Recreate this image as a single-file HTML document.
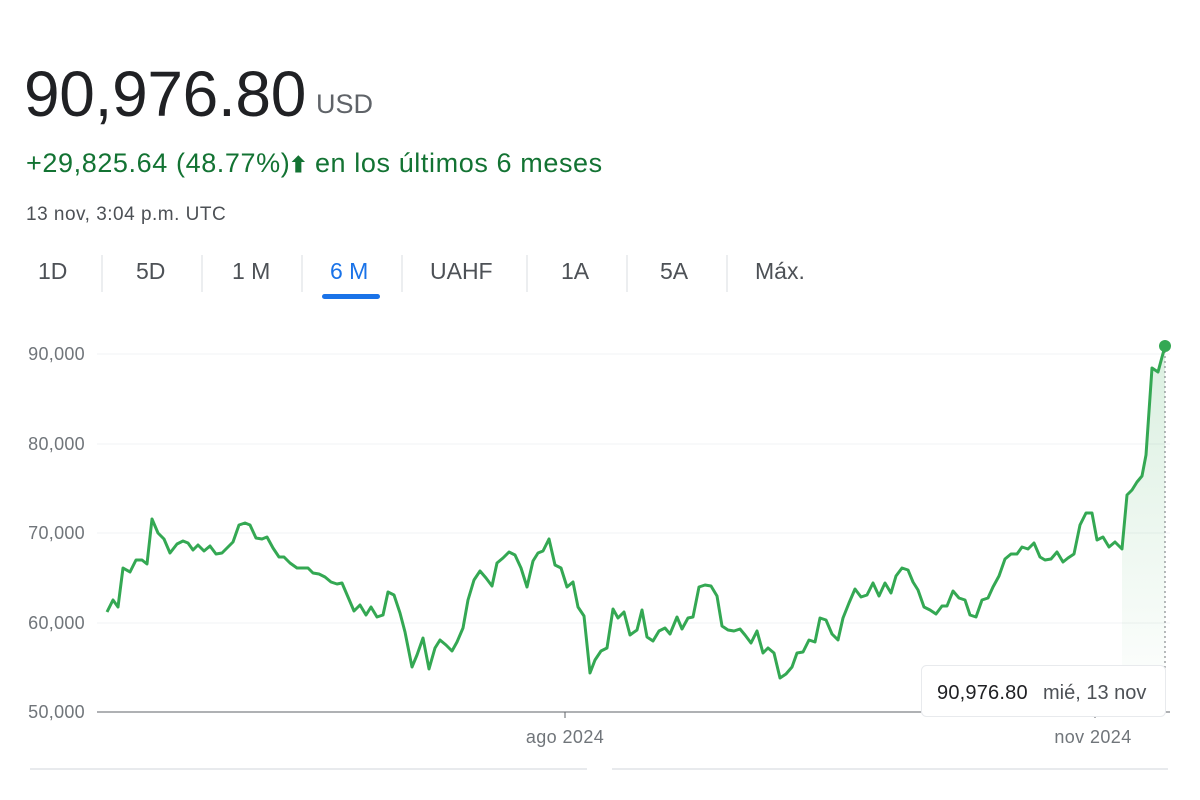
<!DOCTYPE html>
<html><head><meta charset="utf-8"><style>
body{margin:0;width:1200px;height:800px;background:#fff;font-family:"Liberation Sans",Arial,sans-serif;position:relative;overflow:hidden}
.a{position:absolute;white-space:nowrap}
.t{position:absolute;white-space:nowrap;top:258px;font-size:23px;color:#4d5156}
</style></head><body>
<div class="a" style="left:24px;top:57px;font-size:64px;color:#202124;letter-spacing:-0.3px">90,976.80</div>
<div class="a" style="left:316px;top:89px;font-size:27px;color:#5f6368">USD</div>
<div class="a" style="left:26px;top:147px;font-size:27px;color:#137333;letter-spacing:0.6px">+29,825.64 (48.77%)<span style="font-size:24px">&#129069;</span> en los últimos 6 meses</div>
<div class="a" style="left:26px;top:204px;font-size:19px;color:#4d5156;letter-spacing:0.5px">13 nov, 3:04 p.m. UTC</div>
<div class="t" style="left:38px">1D</div>
<div class="t" style="left:136px">5D</div>
<div class="t" style="left:232px">1 M</div>
<div class="t" style="left:330px;color:#1a73e8">6 M</div>
<div class="t" style="left:430px">UAHF</div>
<div class="t" style="left:561px">1A</div>
<div class="t" style="left:660px">5A</div>
<div class="t" style="left:755px">Máx.</div>
<svg class="a" style="left:0;top:0" width="1200" height="800">
<defs><linearGradient id="g" x1="0" y1="0" x2="0" y2="1"><stop offset="0" stop-color="#34a853" stop-opacity="0.18"/><stop offset="1" stop-color="#34a853" stop-opacity="0"/></linearGradient></defs>
<g stroke="#dadce0" stroke-width="1">
<line x1="102" y1="255" x2="102" y2="292"/><line x1="202" y1="255" x2="202" y2="292"/><line x1="302" y1="255" x2="302" y2="292"/><line x1="402" y1="255" x2="402" y2="292"/><line x1="527" y1="255" x2="527" y2="292"/><line x1="627" y1="255" x2="627" y2="292"/><line x1="727" y1="255" x2="727" y2="292"/>
</g>
<rect x="322" y="294" width="58" height="5" rx="2.5" fill="#1a73e8"/>
<g stroke="#f1f3f4" stroke-width="1"><line x1="97" y1="354" x2="1170" y2="354"/><line x1="97" y1="444" x2="1170" y2="444"/><line x1="97" y1="533" x2="1170" y2="533"/><line x1="97" y1="623" x2="1170" y2="623"/></g>
<g font-size="18" fill="#70757a" text-anchor="end" letter-spacing="0.3"><text x="85" y="360">90,000</text><text x="85" y="450">80,000</text><text x="85" y="539">70,000</text><text x="85" y="629">60,000</text><text x="85" y="718">50,000</text></g>
<polygon fill="url(#g)" points="1122,549 1127,495 1132,490 1137,482 1142,476 1146,455 1152,368 1158,372 1165,346 1165,712 1122,712"/>
<line x1="1165" y1="346" x2="1165" y2="712" stroke="#70757a" stroke-width="1" stroke-dasharray="2,3"/>
<line x1="97" y1="712" x2="1170" y2="712" stroke="#5f6368" stroke-width="1"/>
<line x1="565" y1="712" x2="565" y2="718" stroke="#5f6368"/><line x1="1095" y1="712" x2="1095" y2="718" stroke="#5f6368"/>
<g font-size="18" fill="#70757a" text-anchor="middle" letter-spacing="0.4"><text x="565" y="743">ago 2024</text><text x="1093" y="743">nov 2024</text></g>
<polyline fill="none" stroke="#34a853" stroke-width="3" stroke-linejoin="round" points="107,612 113,600 118,607 123,568 130,572 136,560 142,560 147,564 152,519 158,533 164,539 170,553 177,544 183,541 188,543 193,550 198,545 204,551 210,546 216,554 222,553 228,547 233,542 239,525 245,523 250,525 256,538 262,539 267,537 273,548 279,557 284,557 290,563 297,568 303,568 308,568 313,573 319,574 325,577 331,582 337,584 342,583 348,597 354,611 360,605 366,615 371,607 377,617 383,615 388,592 394,595 400,613 405,632 412,667 417,655 423,638 429,669 435,648 440,640 446,645 452,651 457,642 463,628 468,600 474,580 480,571 486,578 492,586 497,563 503,558 509,552 515,555 521,568 527,587 533,561 538,553 543,551 549,539 555,565 561,568 567,587 573,582 578,607 584,616 590,673 595,660 601,651 607,648 613,609 618,618 624,612 630,635 637,630 642,610 647,637 653,641 659,631 665,628 670,634 677,617 682,629 688,618 693,617 699,587 705,585 711,586 717,596 722,626 728,630 734,631 740,629 745,635 751,643 757,631 763,653 768,648 774,653 780,678 786,674 792,667 797,653 803,652 809,640 815,642 820,618 826,620 832,634 838,640 843,618 849,603 855,589 861,597 867,595 873,583 879,596 885,583 891,593 896,576 902,568 908,570 913,582 918,590 924,607 930,610 936,614 942,606 947,606 953,591 959,598 965,600 970,615 976,617 982,600 988,598 993,587 999,576 1005,559 1011,554 1017,554 1022,547 1028,549 1034,543 1040,557 1045,560 1051,559 1057,552 1063,562 1068,558 1074,554 1080,525 1086,513 1092,513 1097,540 1103,537 1109,547 1115,542 1122,549 1127,495 1132,490 1137,482 1142,476 1146,455 1152,368 1158,372 1165,346"/>
<circle cx="1165" cy="346" r="6" fill="#34a853"/>
<rect x="921.5" y="665.5" width="244" height="51" rx="5" fill="#fff" stroke="#e8eaed"/>
<text x="937" y="699" font-size="20" fill="#202124" letter-spacing="0.2">90,976.80</text>
<text x="1043" y="699" font-size="20" fill="#4d5156">mié, 13 nov</text>
<g stroke="#e8eaed" stroke-width="2"><line x1="30" y1="769" x2="587" y2="769"/><line x1="612" y1="769" x2="1168" y2="769"/></g>
</svg>
</body></html>
